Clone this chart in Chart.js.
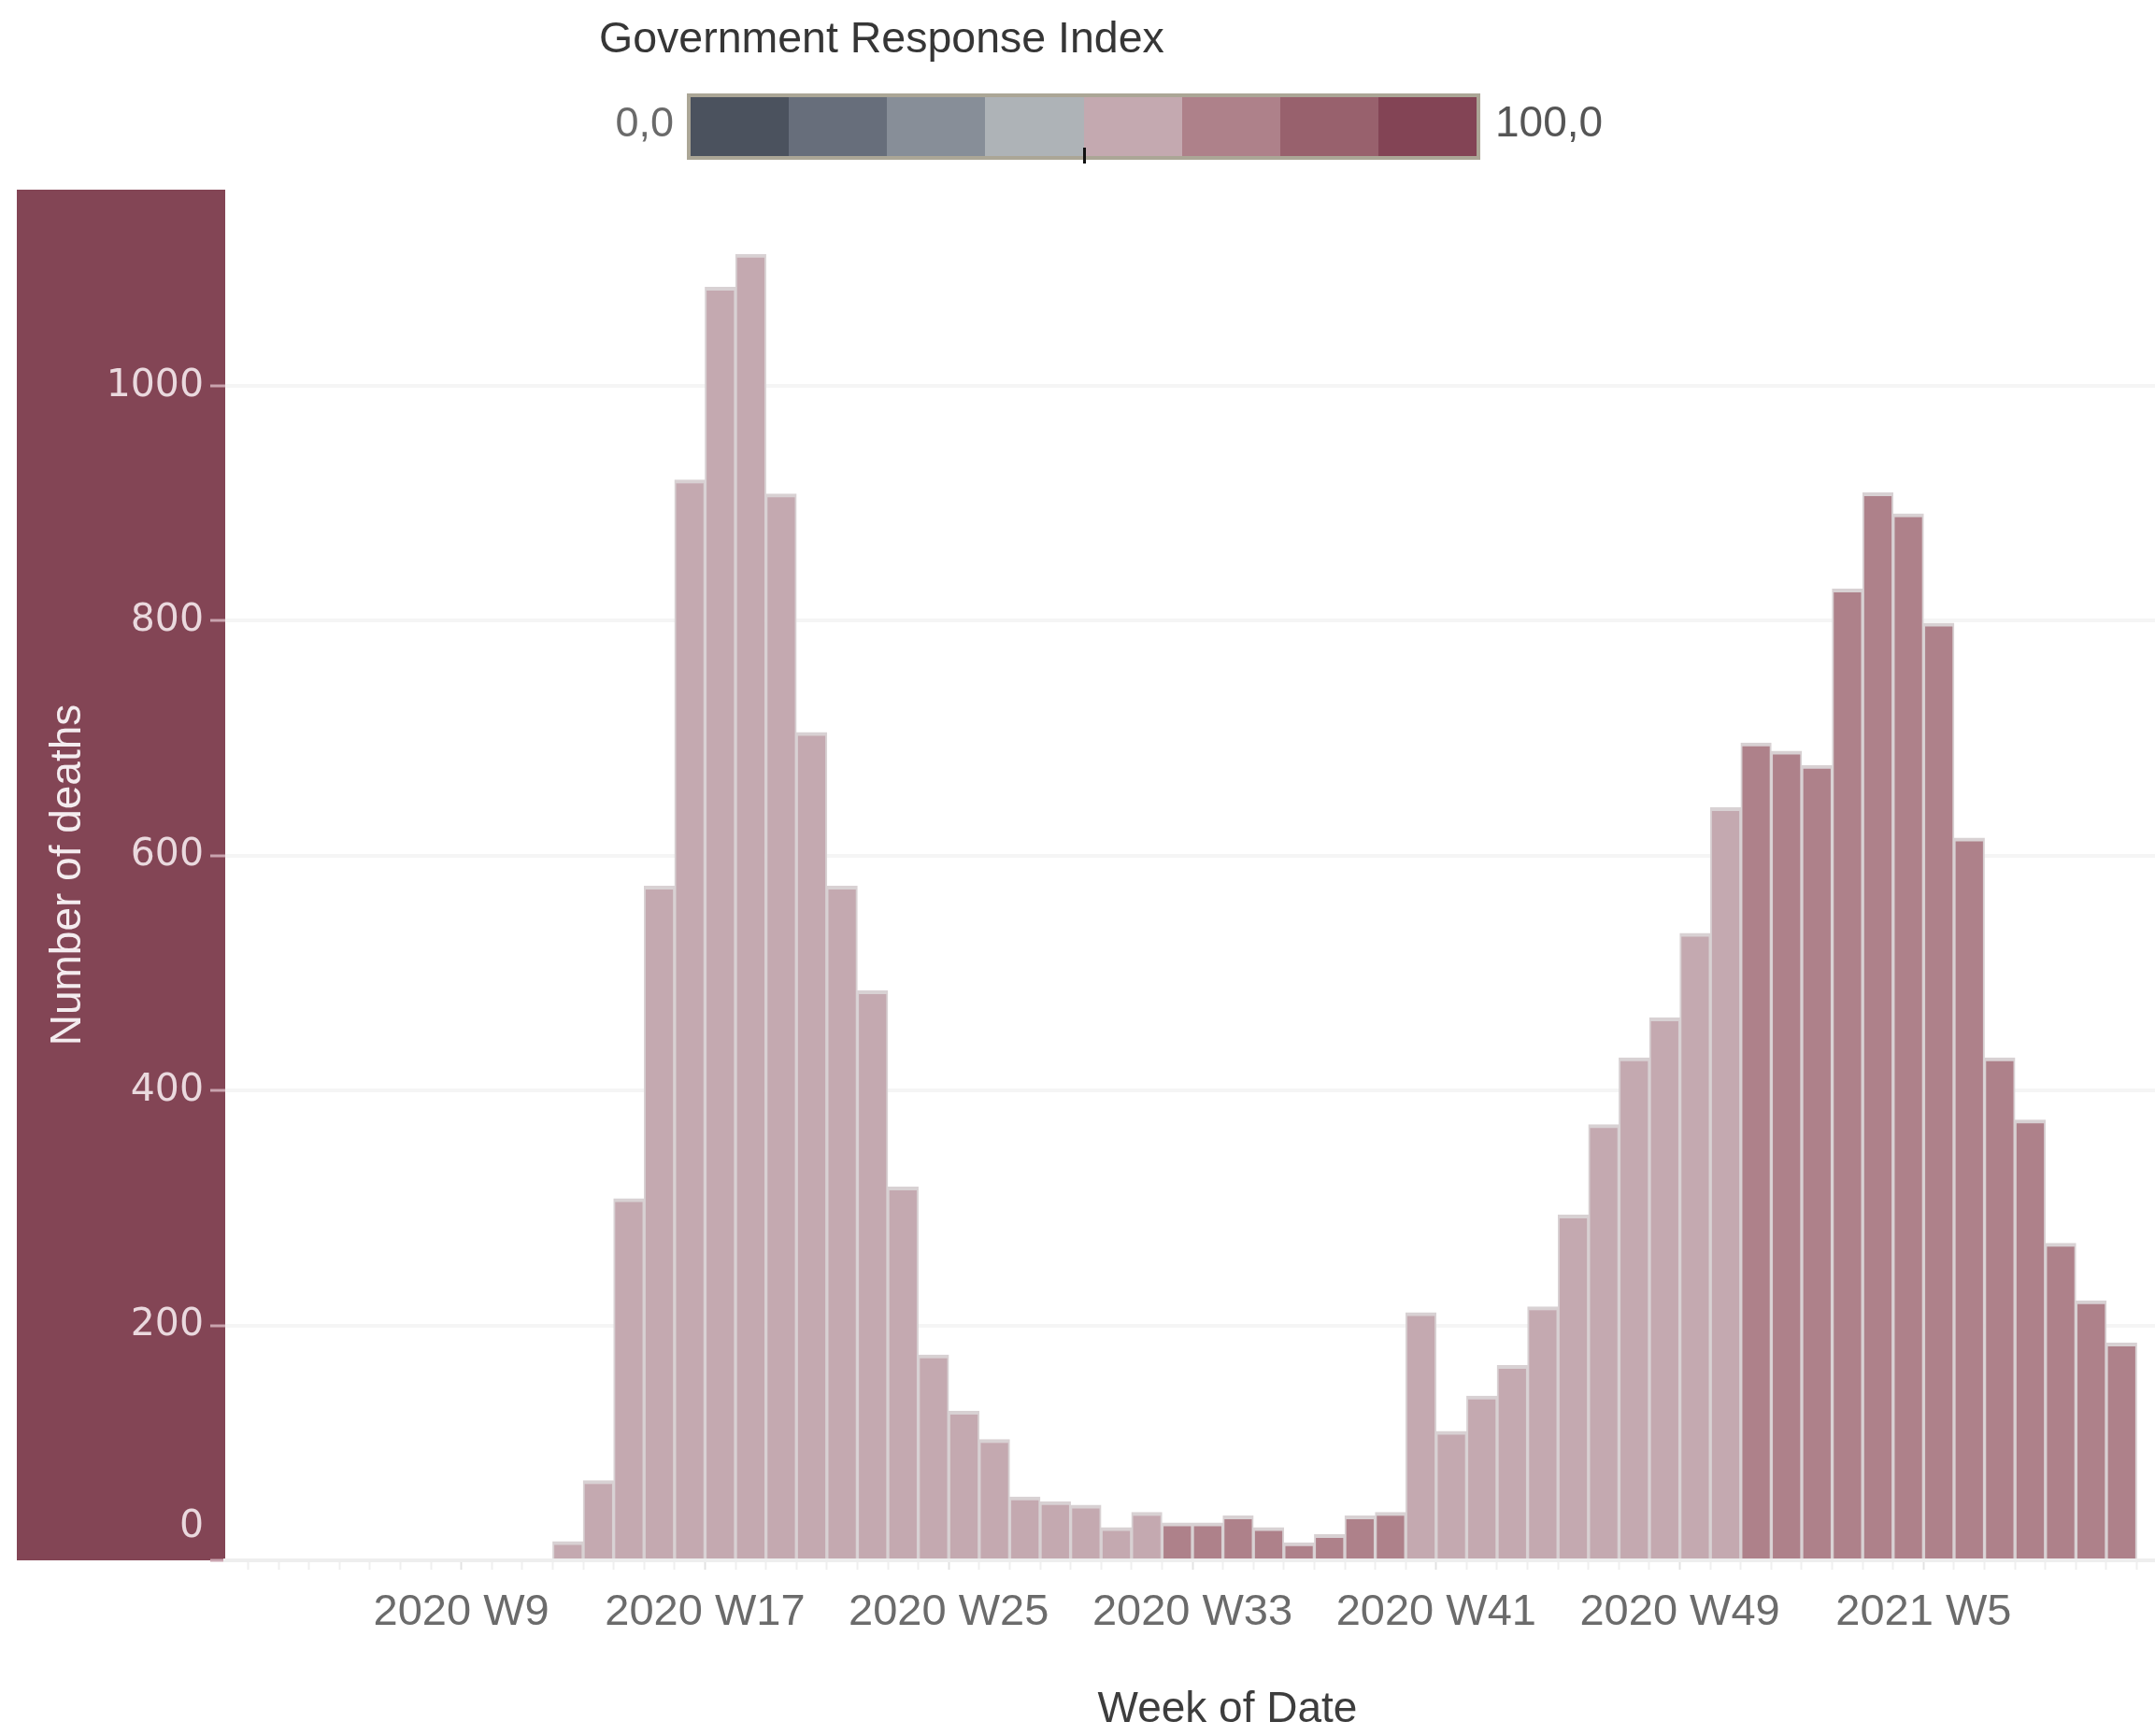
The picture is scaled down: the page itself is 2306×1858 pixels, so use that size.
<!DOCTYPE html>
<html>
<head>
<meta charset="utf-8">
<script src="https://cdn.jsdelivr.net/npm/chart.js@4.4.1/dist/chart.umd.min.js"></script>
<style>
  html, body { margin: 0; padding: 0; background: #ffffff; overflow: hidden; }
  #wrap { position: relative; width: 2306px; height: 1858px; overflow: hidden; background: #ffffff; }
  #chart { position: absolute; left: 0; top: 0; }
  .lg { position: absolute; font-family: "Liberation Sans", Arial, sans-serif; font-size: 45px; line-height: 45px; white-space: nowrap; }
  #lgTitle { left: 641px; top: 18px; color: #363636; font-size: 46.5px; }
  #lgMin { right: calc(2306px - 721px); top: 108px; color: #6a6a6a; text-align: right; }
  #lgMax { left: 1600px; top: 108px; color: #555555; font-size: 46px; }
  #lgBar { position: absolute; left: 735px; top: 100px; width: 849px; height: 71px; box-sizing: border-box;
           border: 4px solid #aba696; display: flex; }
  #lgBar div { flex: 1 1 0; height: 100%; }
  #lgMark { position: absolute; left: 1159px; top: 158px; width: 3px; height: 17px; background: #111; }
</style>
</head>
<body>
<div id="wrap">
  <canvas id="chart" width="2386" height="1858"></canvas>
  <div id="lgTitle" class="lg">Government Response Index</div>
  <div id="lgMin" class="lg">0,0</div>
  <div id="lgBar"></div>
  <div id="lgMark"></div>
  <div id="lgMax" class="lg">100,0</div>
</div>
<script>
// ---------- data ----------
const weeks = [
  '2020 W12','2020 W13','2020 W14','2020 W15','2020 W16','2020 W17','2020 W18','2020 W19','2020 W20','2020 W21',
  '2020 W22','2020 W23','2020 W24','2020 W25','2020 W26','2020 W27','2020 W28','2020 W29','2020 W30','2020 W31',
  '2020 W32','2020 W33','2020 W34','2020 W35','2020 W36','2020 W37','2020 W38','2020 W39','2020 W40','2020 W41',
  '2020 W42','2020 W43','2020 W44','2020 W45','2020 W46','2020 W47','2020 W48','2020 W49','2020 W50','2020 W51',
  '2020 W52','2020 W53','2021 W2','2021 W3','2021 W4','2021 W5','2021 W6','2021 W7','2021 W8','2021 W9',
  '2021 W10','2021 W11'
];
const deaths = [
  16, 68, 308, 574, 920, 1084, 1112, 908, 705, 574,
  485, 318, 175, 127, 103, 54, 50, 47, 28, 41,
  32, 32, 38, 28, 15, 22, 38, 41, 211, 110,
  140, 166, 216, 294, 371, 428, 462, 534, 641, 696,
  689, 677, 827, 909, 891, 798, 615, 428, 375, 270,
  221, 185
];
// Government Response Index (estimated level per week)
const responseIndex = [
  60, 60, 60, 60, 60, 60, 60, 60, 60, 60,
  60, 60, 60, 60, 60, 60, 60, 60, 60, 60,
  70, 70, 70, 70, 70, 70, 70, 70, 60, 60,
  60, 60, 60, 60, 60, 60, 60, 60, 60, 70,
  70, 70, 70, 70, 70, 70, 70, 70, 70, 70,
  70, 70
];
const legendColors = ['#4b525e','#676e7b','#878e98','#aeb3b7','#c4a9b0','#ae818a','#98616d','#834455'];
const legendRange = [0, 100];
const xTickLabels = ['2020 W9','2020 W17','2020 W25','2020 W33','2020 W41','2020 W49','2021 W5'];
const yTickValues = [0, 200, 400, 600, 800, 1000];

// ---------- helpers ----------
function colorFor(v) {
  const n = legendColors.length;
  const k = Math.min(n - 1, Math.max(0, Math.floor((v - legendRange[0]) / ((legendRange[1] - legendRange[0]) / n))));
  return legendColors[k];
}
const firstWeekNum = Number(weeks[0].split(' W')[1]);
function slotOf(label) {
  const i = weeks.indexOf(label);
  if (i >= 0) return i;
  return Number(label.split(' W')[1]) - firstWeekNum;
}
const majorSlots = new Map(xTickLabels.map(l => [slotOf(l), l]));

// legend swatches
const lgBar = document.getElementById('lgBar');
legendColors.forEach(c => { const d = document.createElement('div'); d.style.background = c; lgBar.appendChild(d); });

// ---------- axis setup ----------
const X_MIN = -10.75, X_MAX = 55.05;
const slots = [];
for (let s = Math.ceil(X_MIN); s <= Math.floor(X_MAX); s++) slots.push(s);

const yBand = {
  id: 'yBand',
  beforeDraw(chart) {
    const y = chart.scales.y, a = chart.chartArea, ctx = chart.ctx;
    ctx.save();
    ctx.fillStyle = '#834555';
    ctx.fillRect(y.left, a.top, y.right - y.left, a.bottom - a.top);
    ctx.restore();
    // keep the "0" label inside the band (lifted above the baseline)
    const items = y.getLabelItems(a);
    items.forEach(it => { if (it.label === '0' && !it._lifted) { it.options.translation[1] -= 36; it._lifted = true; } });
  }
};

new Chart(document.getElementById('chart'), {
  type: 'bar',
  data: {
    datasets: [{
      data: weeks.map((w, i) => ({ x: i + 0.5, y: deaths[i] })),
      backgroundColor: responseIndex.map(colorFor),
      borderColor: '#d8d1d3',
      borderWidth: { top: 4, left: 2, right: 2, bottom: 0 },
      borderSkipped: 'start',
      barPercentage: 1,
      categoryPercentage: 1
    }]
  },
  options: {
    responsive: false,
    devicePixelRatio: 1,
    animation: false,
    events: [],
    layout: { padding: { left: 18, top: 203, right: 0, bottom: 0 } },
    plugins: { legend: { display: false }, tooltip: { enabled: false } },
    scales: {
      x: {
        type: 'linear',
        min: X_MIN,
        max: X_MAX,
        offset: false,
        afterBuildTicks: s => { s.ticks = slots.map(v => ({ value: v })); },
        afterFit: s => { s.height = 188; s.paddingLeft = 0; s.paddingRight = 0; },
        ticks: {
          autoSkip: false, maxRotation: 0, minRotation: 0, padding: 18,
          color: '#6b6b6b',
          font: { family: 'Liberation Sans', size: 47 },
          callback: v => majorSlots.get(v) || ''
        },
        grid: {
          drawOnChartArea: false, drawTicks: true, tickLength: 10, tickWidth: 2, offset: false,
          tickColor: c => (c.tick && majorSlots.has(c.tick.value)) ? '#e2e2e2' : '#efefef'
        },
        border: { display: true, color: '#eeeeee', width: 4 },
        title: {
          display: true, text: 'Week of Date', color: '#3d3d3d',
          font: { family: 'Liberation Sans', size: 46 }, padding: { top: 0, bottom: 0 }
        }
      },
      y: {
        min: 0,
        max: 1167,
        afterBuildTicks: s => { s.ticks = yTickValues.map(v => ({ value: v })); },
        afterFit: s => { s.width = 223; },
        ticks: {
          color: '#ead9de', padding: 7,
          font: { family: 'DejaVu Sans', size: 41 },
          callback: v => String(v)
        },
        grid: { color: '#f5f5f5', lineWidth: 4, drawTicks: true, tickLength: 16, tickColor: '#c9a3ae', tickWidth: 3 },
        border: { display: false },
        title: {
          display: true, text: 'Number of deaths', color: '#f4ecef',
          font: { family: 'Liberation Sans', size: 46 }, padding: { top: 28, bottom: 0 }
        }
      }
    }
  },
  plugins: [yBand]
});
</script>
</body>
</html>
